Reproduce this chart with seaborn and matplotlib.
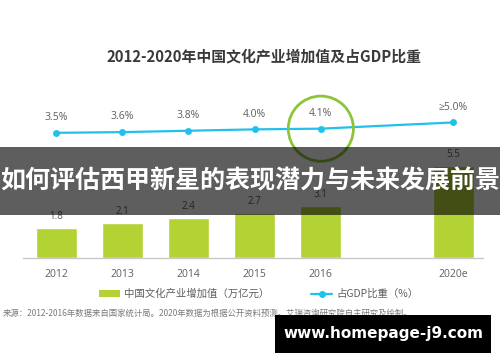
import matplotlib
matplotlib.use("Agg")
import matplotlib.pyplot as plt
from matplotlib.patches import Rectangle
from matplotlib.lines import Line2D
from matplotlib.patches import Patch
import seaborn as sns
import pandas as pd

# data
years = ['2012', '2013', '2014', '2015', '2016', '2020e']
order = ['2012', '2013', '2014', '2015', '2016', '', '2020e']  # blank slot before 2020e
added_value = [1.8, 2.1, 2.4, 2.7, 3.1, 5.5]       # 万亿元
gdp_share = [3.5, 3.6, 3.8, 4.0, 4.1, 5.0]         # %
share_labels = ['3.5%', '3.6%', '3.8%', '4.0%', '4.1%', '≥5.0%']

bar_color = '#b3d334'
line_color = '#22c1ec'
text_gray = '#5f5f5f'
num_font = ['Open Sans', 'DejaVu Sans']

sns.set_style("white")
plt.rcParams['font.family'] = ['Noto Sans CJK SC', 'DejaVu Sans']

df = pd.DataFrame({'year': years, 'value': added_value, 'share': gdp_share})
df['pos'] = [order.index(y) for y in years]

fig = plt.figure(figsize=(5, 3.62), dpi=100)
ax = fig.add_axes([0.046, 0.287, 0.92, 0.464])

sns.barplot(data=df, x='year', y='value', order=order, color=bar_color,
            width=0.62, saturation=1, ax=ax)
for t in ax.bar_label(ax.containers[0], fmt='%.1f', padding=4, fontsize=7, color=text_gray):
    t.set_family(num_font)
ax.set_ylim(0, 10)
ax.set_xlim(-0.5, 6.45)
ax.set_xlabel('')
ax.set_ylabel('')
ax.set_yticks([])
for s in ['top', 'right', 'left']:
    ax.spines[s].set_visible(False)
ax.spines['bottom'].set_color('#c8c8c8')
ax.spines['bottom'].set_linewidth(1)
ax.tick_params(axis='x', length=0, pad=8, labelsize=7.5, labelcolor=text_gray)
for t in ax.get_xticklabels():
    t.set_family(num_font)

ax2 = ax.twinx()
sns.lineplot(data=df, x='pos', y='share', ax=ax2, color=line_color, linewidth=1.6,
             marker='o', markersize=5, markeredgewidth=0)
for x, y, lab in zip(df['pos'], df['share'], share_labels):
    ax2.annotate(lab, (x, y), xytext=(0, 7), textcoords='offset points',
                 ha='center', va='bottom', fontsize=7.5, color=text_gray, family=num_font)
# highlight circle around 2016 share
ax2.scatter([df['pos'][4]], [gdp_share[4]], s=2200, facecolors='none',
            edgecolors='#8cc43c', linewidths=2, zorder=5)
ax2.set_ylim(-14.58, 9.66)
ax2.set_xlim(-0.5, 6.45)
ax2.set_yticks([])
ax2.set_ylabel('')
ax2.set_xlabel('')
for s in ['top', 'right', 'left', 'bottom']:
    ax2.spines[s].set_visible(False)

fig.text(0.528, 0.843, '2012-2020年中国文化产业增加值及占GDP比重', ha='center', va='center',
         fontsize=10.7, fontweight='bold', color='#3a3a3a')

handles = [Patch(facecolor=bar_color, edgecolor='none'),
           Line2D([0], [0], color=line_color, linewidth=1.6, marker='o', markersize=4)]
fig.legend(handles, ['中国文化产业增加值（万亿元）', '占GDP比重（%）'], loc='center',
           bbox_to_anchor=(0.518, 0.188), ncol=2, frameon=False, fontsize=7.5,
           columnspacing=4, handlelength=2, handleheight=0.6, handletextpad=0.4,
           labelcolor=text_gray)

fig.text(0.006, 0.135, '来源：2012-2016年数据来自国家统计局。2020年数据为根据公开资料预测。艾瑞咨询研究院自主研究及绘制。',
         ha='left', va='center', fontsize=6, color='#7a7a7a')

# dark banner across the chart
fig.patches.append(Rectangle((0, 0.406), 1, 0.188, transform=fig.transFigure,
                             facecolor='black', alpha=0.63, edgecolor='none', zorder=10))
fig.text(0.5, 0.5, '如何评估西甲新星的表现潜力与未来发展前景', ha='center', va='center',
         fontsize=18, fontweight='bold', color='white', zorder=11)

# watermark box
fig.patches.append(Rectangle((0.55, 0.025), 0.432, 0.105, transform=fig.transFigure,
                             facecolor='black', edgecolor='none', zorder=10))
fig.text(0.766, 0.078, 'www.homepage-j9.com', ha='center', va='center', fontsize=11,
         fontweight='bold', color='white', family='DejaVu Sans', zorder=11)

fig.savefig('out.png', dpi=100)
